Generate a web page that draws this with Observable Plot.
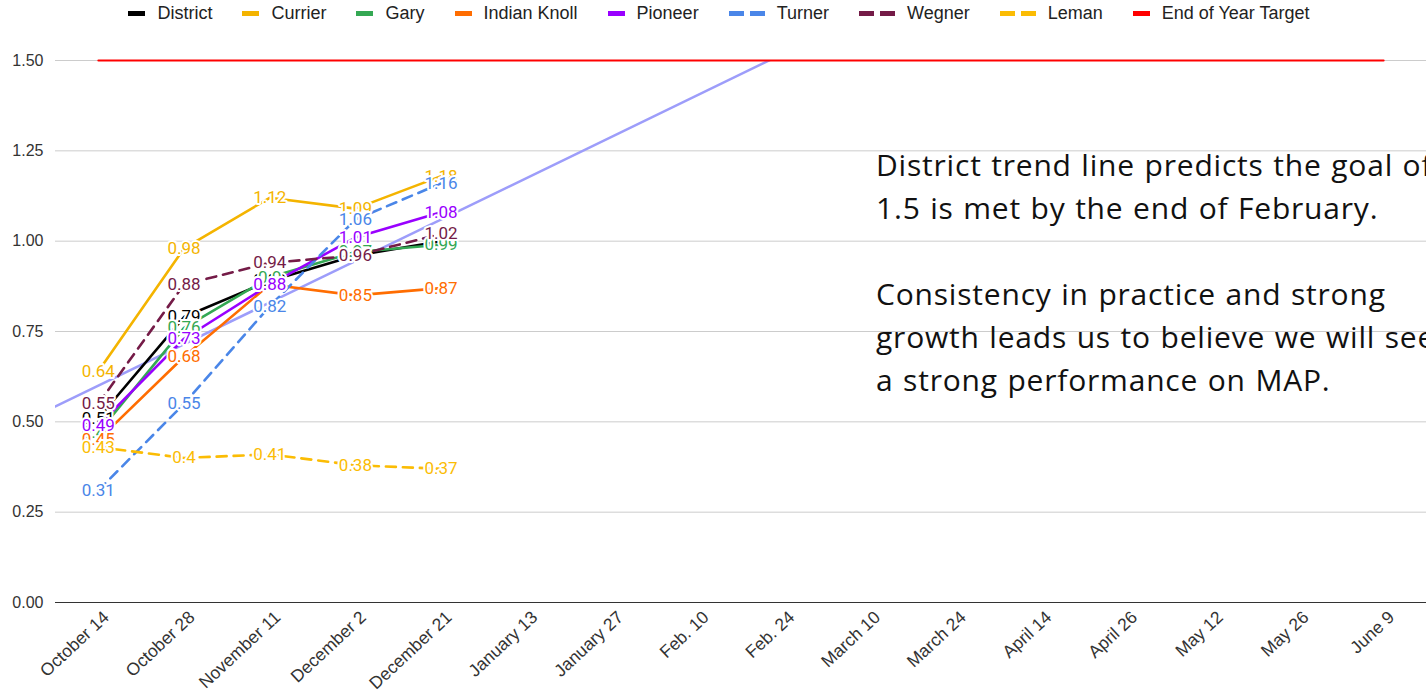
<!DOCTYPE html>
<html>
<head>
<meta charset="utf-8">
<script src="https://cdn.jsdelivr.net/npm/d3@7"></script>
<script src="https://cdn.jsdelivr.net/npm/@observablehq/plot@0.6"></script>
<style>
  html, body { margin: 0; padding: 0; background: #fff; overflow: hidden; }
  #wrap { position: relative; width: 1426px; height: 694px; overflow: hidden; }
  #legend { height: 26px; display: flex; justify-content: center; align-items: center;
    font-family: "Liberation Sans", Arial, sans-serif; font-size: 18px; color: #222; padding-left: 42px; box-sizing: border-box; }
  .item { display: flex; align-items: center; margin-right: 30px; }
  .sw { display: inline-block; width: 17px; height: 5px; margin-right: 12px; }
  .sw.d { width: 15px; margin-right: 6px; }
  .sw.d.last { margin-right: 12px; }
  #note { position: absolute; left: 876px; top: 143px; font-family: "Open Sans", Lato, sans-serif;
    font-size: 30px; letter-spacing: 0.8px; word-spacing: 1px; line-height: 43px; color: #111; white-space: nowrap; }
  #note p { margin: 0; }
  #note p + p { margin-top: 43px; }
</style>
</head>
<body>
<div id="wrap">
  <div id="legend"></div>
  <div id="chart"></div>
  <div id="note"></div>
</div>
<script>
// ---- data ----
const categories = ["October 14","October 28","November 11","December 2","December 21","January 13","January 27","Feb. 10","Feb. 24","March 10","March 24","April 14","April 26","May 12","May 26","June 9"];
const yTicks = [0, 0.25, 0.5, 0.75, 1.0, 1.25, 1.5];
const district    = [0.51, 0.79, 0.89, 0.96, 1.00];
const currier     = [0.64, 0.98, 1.12, 1.09, 1.18];
const gary        = [0.47, 0.76, 0.90, 0.97, 0.99];
const indianKnoll = [0.45, 0.68, 0.88, 0.85, 0.87];
const pioneer     = [0.49, 0.73, 0.88, 1.01, 1.08];
const turner      = [0.31, 0.55, 0.82, 1.06, 1.16];
const wegner      = [0.55, 0.88, 0.94, 0.96, 1.02];
const leman       = [0.43, 0.40, 0.41, 0.38, 0.37];
const endOfYearTarget = [1.5, 1.5, 1.5, 1.5, 1.5, 1.5, 1.5, 1.5, 1.5, 1.5, 1.5, 1.5, 1.5, 1.5, 1.5, 1.5];
const seriesNames = ["District","Currier","Gary","Indian Knoll","Pioneer","Turner","Wegner","Leman"];
const seriesValues = [district, currier, gary, indianKnoll, pioneer, turner, wegner, leman];
const noteParagraphs = [
  ["District trend line predicts the goal of", "1.5 is met by the end of February."],
  ["Consistency in practice and strong", "growth leads us to believe we will see", "a strong performance on MAP."]
];

// ---- styles ----
const colors = ["#000000","#f4b400","#34a853","#ff6d01","#9900ff","#4a86e8","#741b47","#fbbc04"];
const dashed = [false,false,false,false,false,true,true,true];
const targetColor = "#ff0000";
const trendColor = "#9d9dfa";

// legend
const legend = document.getElementById("legend");
function addItem(name, color, isDashed) {
  const it = document.createElement("div"); it.className = "item";
  if (isDashed) {
    it.innerHTML = `<span class="sw d" style="background:${color}"></span><span class="sw d last" style="background:${color}"></span><span>${name}</span>`;
  } else {
    it.innerHTML = `<span class="sw" style="background:${color}"></span><span>${name}</span>`;
  }
  legend.appendChild(it);
}
seriesNames.forEach((n, i) => addItem(n, colors[i], dashed[i]));
addItem("End of Year Target", targetColor, false);

// note
document.getElementById("note").innerHTML = noteParagraphs.map(p => `<p>${p.join("<br>")}</p>`).join("");

// trend line (least squares on District)
const idx = district.map((_, i) => i);
const mx = d3.mean(idx), my = d3.mean(district);
const slope = d3.sum(idx, i => (i - mx) * (district[i] - my)) / d3.sum(idx, i => (i - mx) ** 2);
const intercept = my - slope * mx;
const trendPts = [-0.5, 15.5].map(x => ({x, y: intercept + slope * x}));

const marks = [
  Plot.gridY(yTicks, {stroke: "#cccccc", strokeOpacity: 1}),
  Plot.ruleY([0], {stroke: "#333333", strokeWidth: 1.2}),
  Plot.line(trendPts, {x: "x", y: "y", stroke: trendColor, strokeWidth: 2.5, clip: true}),
  Plot.lineY(endOfYearTarget, {x: (d, i) => i, y: d => d, stroke: targetColor, strokeWidth: 2})
];
seriesValues.forEach((vals, s) => {
  marks.push(Plot.lineY(vals, {x: (d, i) => i, y: d => d, stroke: colors[s], strokeWidth: 2.6,
    strokeDasharray: dashed[s] ? "10,7" : null}));
});
seriesValues.forEach((vals, s) => {
  marks.push(Plot.text(vals, {x: (d, i) => i, y: d => d, text: d => String(d), fill: colors[s],
    stroke: "white", strokeWidth: 4, paintOrder: "stroke", fontSize: 17, fontFamily: "Roboto, sans-serif"}));
});
marks.push(Plot.axisY(yTicks, {label: null, tickFormat: d => d.toFixed(2), tickSize: 0, tickPadding: 12, fontSize: 16, fill: "#333"}));
marks.push(Plot.axisX(d3.range(categories.length), {label: null, tickFormat: i => categories[i], tickRotate: -43, tickSize: 0, tickPadding: 12, dx: 8, fontSize: 17.5, fill: "#333"}));

const chart = Plot.plot({
  width: 1426,
  height: 668,
  marginTop: 34,
  marginBottom: 92,
  marginLeft: 55,
  marginRight: 0,
  style: {fontFamily: "'Liberation Sans', Arial, sans-serif", fontSize: "16px", background: "white"},
  x: {type: "linear", domain: [-0.5, 15.5], label: null},
  y: {domain: [0, 1.5], label: null},
  marks
});
document.getElementById("chart").appendChild(chart);
</script>
</body>
</html>
